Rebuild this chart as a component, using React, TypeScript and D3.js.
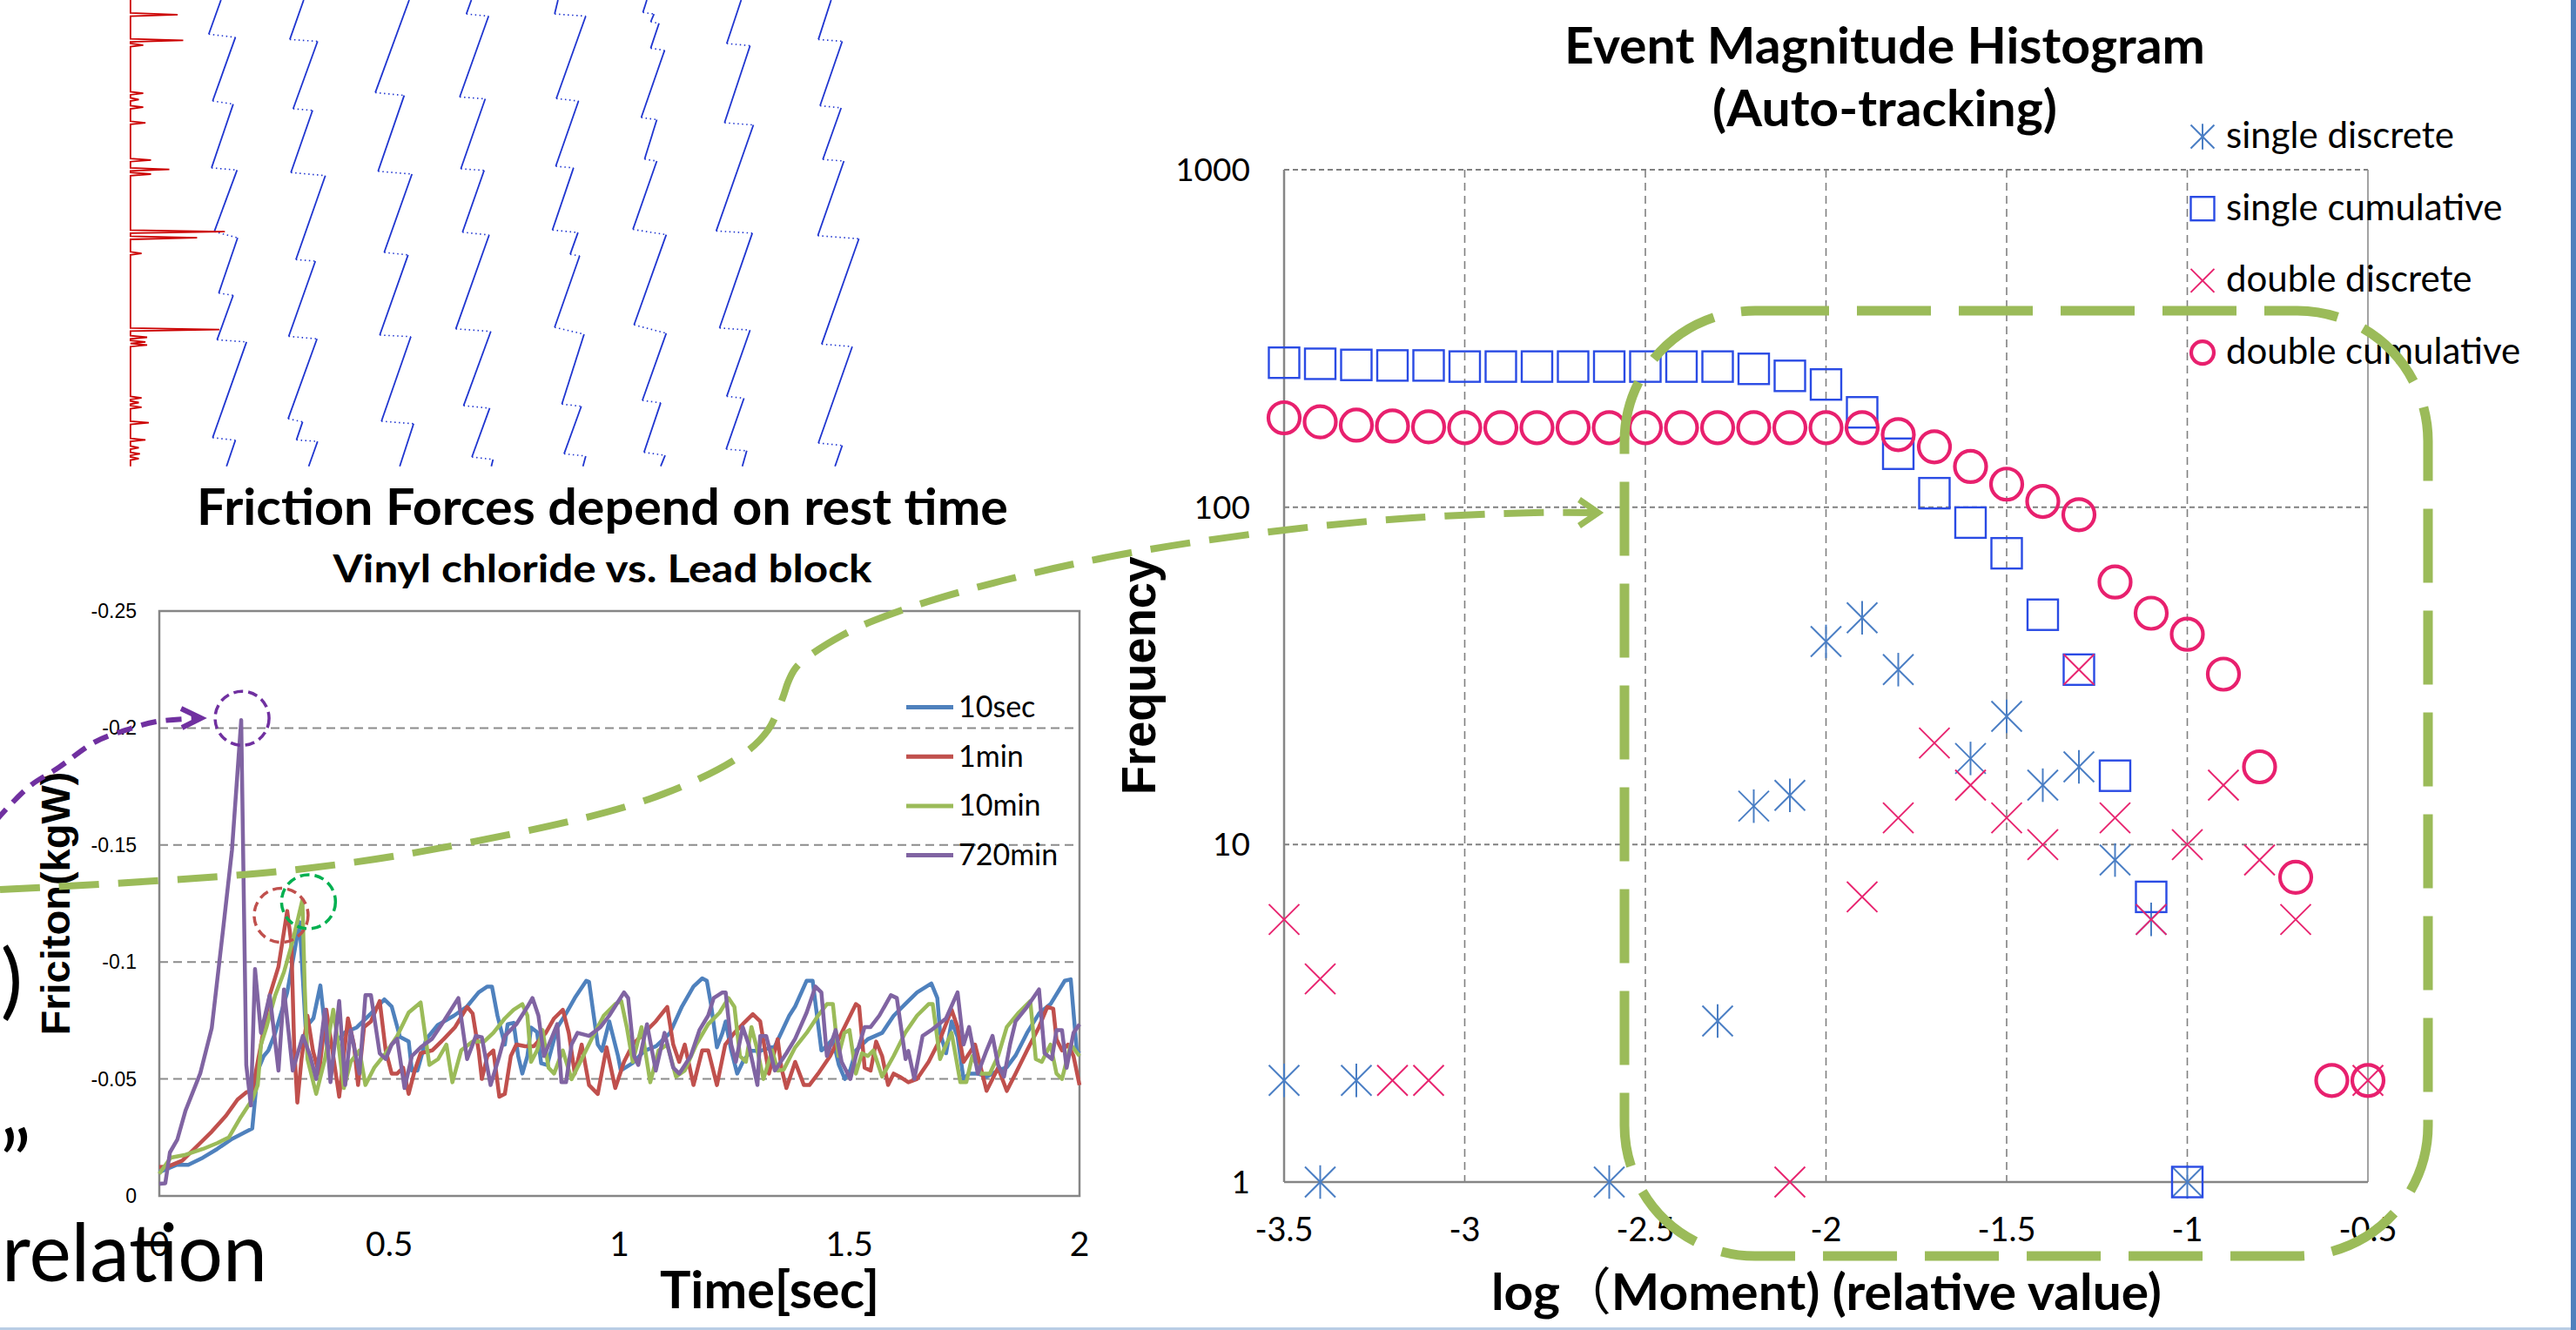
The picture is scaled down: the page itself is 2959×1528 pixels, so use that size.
import React, { useEffect, useRef } from "react";
import * as d3 from "d3";

type Pt = [number, number];

const W = 2959;
const H = 1528;

const CAL = "Lato, 'Open Sans', sans-serif";
const ARIAL = "'Liberation Sans', Arial, sans-serif";
const CJK = "'Noto Sans CJK JP', 'Noto Sans CJK SC', sans-serif";

// ---------- friction chart: time [sec] vs friction [kgW] ----------
const restTimes = ["10sec", "1min", "10min", "720min"];
const restColors = ["#4F81BD", "#C0504D", "#9BBB59", "#8064A2"];
const timeTicks = [0, 0.5, 1, 1.5, 2];
const frictionTicks = [0, -0.05, -0.1, -0.15, -0.2, -0.25];

const f10sec: Pt[] = [
  [0.0, -0.0102], [0.038, -0.0133], [0.063, -0.0133], [0.095, -0.0164], [0.126, -0.0201],
  [0.158, -0.0244], [0.189, -0.0275], [0.202, -0.0288], [0.214, -0.0536], [0.227, -0.0598],
  [0.237, -0.0622], [0.252, -0.0697], [0.278, -0.087], [0.305, -0.117], [0.318, -0.072],
  [0.335, -0.076], [0.35, -0.09], [0.365, -0.063], [0.38, -0.065], [0.404, -0.07],
  [0.429, -0.072], [0.46, -0.078], [0.489, -0.084], [0.505, -0.081], [0.523, -0.068],
  [0.542, -0.066], [0.549, -0.0536], [0.561, -0.0536], [0.58, -0.067], [0.605, -0.073],
  [0.64, -0.077], [0.669, -0.081], [0.694, -0.087], [0.713, -0.0895], [0.723, -0.0895],
  [0.735, -0.077], [0.751, -0.0647], [0.757, -0.0734], [0.77, -0.074], [0.78, -0.0598],
  [0.789, -0.0523], [0.8, -0.0598], [0.808, -0.072], [0.821, -0.07], [0.83, -0.0567],
  [0.843, -0.056], [0.865, -0.072], [0.884, -0.078], [0.903, -0.0846], [0.928, -0.092],
  [0.934, -0.0915], [0.953, -0.0647], [0.962, -0.062], [0.978, -0.0746], [0.997, -0.0598],
  [1.003, -0.0536], [1.03, -0.057], [1.054, -0.062], [1.08, -0.064], [1.11, -0.0697],
  [1.136, -0.081], [1.161, -0.0895], [1.18, -0.093], [1.19, -0.092], [1.199, -0.082],
  [1.212, -0.0635], [1.224, -0.0697], [1.231, -0.0746], [1.243, -0.0622], [1.256, -0.0523],
  [1.27, -0.058], [1.287, -0.062], [1.306, -0.062], [1.338, -0.064], [1.369, -0.077],
  [1.382, -0.081], [1.407, -0.092], [1.42, -0.092], [1.439, -0.0622], [1.445, -0.063],
  [1.464, -0.067], [1.477, -0.056], [1.49, -0.05], [1.502, -0.054], [1.514, -0.0622],
  [1.54, -0.067], [1.571, -0.0697], [1.596, -0.077], [1.621, -0.082], [1.647, -0.087],
  [1.678, -0.0908], [1.691, -0.0846], [1.697, -0.0697], [1.71, -0.061], [1.722, -0.0746],
  [1.735, -0.068], [1.748, -0.05], [1.76, -0.0523], [1.779, -0.0523], [1.798, -0.051],
  [1.823, -0.0536], [1.842, -0.055], [1.861, -0.06], [1.886, -0.0697], [1.912, -0.078],
  [1.937, -0.082], [1.968, -0.092], [1.981, -0.0926], [1.994, -0.0622], [2.0, -0.061],
];

const f1min: Pt[] = [
  [0.0, -0.0124], [0.019, -0.0126], [0.05, -0.0151], [0.082, -0.0213], [0.114, -0.0275],
  [0.145, -0.0343], [0.17, -0.0412], [0.189, -0.0443], [0.202, -0.045], [0.221, -0.0647],
  [0.24, -0.0858], [0.259, -0.098], [0.278, -0.1218], [0.287, -0.108], [0.293, -0.0647],
  [0.3, -0.0399], [0.309, -0.0585], [0.322, -0.077], [0.334, -0.062], [0.347, -0.0523],
  [0.363, -0.0796], [0.378, -0.0598], [0.391, -0.0424], [0.41, -0.0759], [0.423, -0.0647],
  [0.432, -0.0474], [0.445, -0.0722], [0.46, -0.0746], [0.479, -0.0833], [0.492, -0.0622],
  [0.505, -0.0523], [0.517, -0.0523], [0.53, -0.0548], [0.542, -0.0436], [0.555, -0.0536],
  [0.568, -0.061], [0.593, -0.0622], [0.618, -0.067], [0.643, -0.0722], [0.669, -0.0808],
  [0.681, -0.078], [0.694, -0.0622], [0.701, -0.05], [0.713, -0.0598], [0.726, -0.0622],
  [0.739, -0.0424], [0.751, -0.0436], [0.764, -0.0598], [0.776, -0.0647], [0.795, -0.064],
  [0.814, -0.064], [0.84, -0.0697], [0.858, -0.0759], [0.877, -0.0796], [0.89, -0.0697],
  [0.903, -0.0523], [0.918, -0.0647], [0.934, -0.0474], [0.953, -0.0436], [0.972, -0.0635],
  [0.991, -0.0461], [1.01, -0.0573], [1.029, -0.0647], [1.054, -0.0697], [1.079, -0.0746],
  [1.104, -0.0808], [1.117, -0.0647], [1.13, -0.0573], [1.142, -0.0647], [1.161, -0.0474],
  [1.18, -0.0622], [1.193, -0.0622], [1.212, -0.0474], [1.23, -0.0647], [1.25, -0.0697],
  [1.268, -0.0734], [1.29, -0.0777], [1.306, -0.0746], [1.325, -0.0523], [1.344, -0.067],
  [1.352, -0.0548], [1.363, -0.0461], [1.382, -0.0573], [1.401, -0.0474], [1.413, -0.0474],
  [1.432, -0.0523], [1.458, -0.0598], [1.483, -0.0697], [1.514, -0.082], [1.521, -0.081],
  [1.533, -0.0548], [1.546, -0.0536], [1.558, -0.066], [1.571, -0.0598], [1.584, -0.0474],
  [1.596, -0.0523], [1.609, -0.051], [1.628, -0.0486], [1.647, -0.05], [1.672, -0.0573],
  [1.697, -0.067], [1.722, -0.0796], [1.735, -0.0722], [1.748, -0.0573], [1.773, -0.0647],
  [1.798, -0.0449], [1.823, -0.0548], [1.842, -0.0449], [1.861, -0.0523], [1.886, -0.0622],
  [1.912, -0.0722], [1.93, -0.0808], [1.943, -0.08], [1.95, -0.067], [1.962, -0.0622],
  [1.975, -0.0647], [1.987, -0.0598], [2.0, -0.0474],
];

const f10min: Pt[] = [
  [0.0, -0.0095], [0.025, -0.0164], [0.057, -0.0176], [0.095, -0.0201], [0.126, -0.0226],
  [0.151, -0.025], [0.177, -0.0337], [0.202, -0.0412], [0.214, -0.0474], [0.221, -0.0647],
  [0.233, -0.0722], [0.252, -0.0858], [0.271, -0.0957], [0.29, -0.109], [0.311, -0.1265],
  [0.316, -0.0895], [0.322, -0.0585], [0.341, -0.0436], [0.36, -0.0585], [0.378, -0.0796],
  [0.391, -0.0622], [0.401, -0.0461], [0.416, -0.0573], [0.435, -0.0622], [0.448, -0.0474],
  [0.467, -0.0548], [0.492, -0.061], [0.517, -0.0684], [0.542, -0.0784], [0.568, -0.0827],
  [0.587, -0.056], [0.606, -0.0585], [0.624, -0.0647], [0.637, -0.0486], [0.656, -0.0622],
  [0.681, -0.066], [0.706, -0.066], [0.726, -0.0697], [0.751, -0.0759], [0.77, -0.0796],
  [0.789, -0.082], [0.8, -0.0771], [0.808, -0.0573], [0.821, -0.0622], [0.833, -0.0709],
  [0.846, -0.0548], [0.858, -0.0523], [0.877, -0.0622], [0.896, -0.0499], [0.915, -0.0573],
  [0.94, -0.0672], [0.966, -0.0771], [0.991, -0.082], [1.004, -0.0833], [1.016, -0.0722],
  [1.029, -0.0573], [1.048, -0.0722], [1.067, -0.0486], [1.085, -0.0622], [1.104, -0.0647],
  [1.123, -0.051], [1.142, -0.0536], [1.167, -0.0647], [1.193, -0.0734], [1.218, -0.0784],
  [1.237, -0.0846], [1.25, -0.0808], [1.262, -0.0598], [1.275, -0.0573], [1.287, -0.0722],
  [1.3, -0.0622], [1.313, -0.05], [1.332, -0.0622], [1.344, -0.0536], [1.357, -0.054],
  [1.382, -0.0635], [1.407, -0.0697], [1.432, -0.0771], [1.451, -0.082], [1.464, -0.082],
  [1.476, -0.0598], [1.489, -0.0697], [1.5, -0.0709], [1.514, -0.0523], [1.527, -0.061],
  [1.54, -0.0598], [1.552, -0.0622], [1.571, -0.051], [1.596, -0.0598], [1.621, -0.0697],
  [1.647, -0.0771], [1.672, -0.082], [1.681, -0.082], [1.697, -0.0585], [1.71, -0.0647],
  [1.722, -0.0697], [1.741, -0.0486], [1.754, -0.0486], [1.767, -0.0598], [1.786, -0.0523],
  [1.805, -0.0523], [1.823, -0.0598], [1.842, -0.0722], [1.868, -0.0784], [1.893, -0.0833],
  [1.905, -0.0585], [1.918, -0.0573], [1.937, -0.0647], [1.95, -0.0523], [1.962, -0.05],
  [1.981, -0.0647], [2.0, -0.0598],
];

const f720min: Pt[] = [
  [0.0, -0.0052], [0.013, -0.0054], [0.023, -0.0186], [0.039, -0.024], [0.057, -0.0365],
  [0.089, -0.0524], [0.114, -0.0718], [0.139, -0.1146], [0.158, -0.148], [0.178, -0.2034],
  [0.189, -0.056], [0.199, -0.0387], [0.208, -0.097], [0.221, -0.0697], [0.24, -0.0858],
  [0.259, -0.0536], [0.271, -0.0883], [0.29, -0.0536], [0.312, -0.0684], [0.328, -0.0598],
  [0.341, -0.05], [0.36, -0.0796], [0.372, -0.0486], [0.391, -0.0833], [0.404, -0.0474],
  [0.416, -0.0709], [0.435, -0.0523], [0.448, -0.0858], [0.46, -0.0858], [0.479, -0.061],
  [0.492, -0.0585], [0.505, -0.0647], [0.517, -0.0672], [0.533, -0.0461], [0.549, -0.0598],
  [0.568, -0.0635], [0.593, -0.0672], [0.618, -0.0746], [0.65, -0.0846], [0.669, -0.0585],
  [0.688, -0.0684], [0.701, -0.0678], [0.72, -0.0474], [0.739, -0.0598], [0.751, -0.0684],
  [0.776, -0.0734], [0.8, -0.0808], [0.811, -0.0846], [0.824, -0.0771], [0.836, -0.0598],
  [0.852, -0.0672], [0.865, -0.0734], [0.874, -0.0486], [0.884, -0.0486], [0.896, -0.0647],
  [0.909, -0.0697], [0.934, -0.0684], [0.959, -0.0722], [0.978, -0.0771], [1.01, -0.087],
  [1.019, -0.0846], [1.032, -0.0598], [1.041, -0.056], [1.06, -0.0734], [1.079, -0.0536],
  [1.098, -0.0697], [1.117, -0.0548], [1.13, -0.0523], [1.155, -0.0598], [1.174, -0.0709],
  [1.193, -0.0771], [1.205, -0.0846], [1.224, -0.087], [1.231, -0.087], [1.243, -0.0647],
  [1.253, -0.0573], [1.268, -0.0722], [1.281, -0.0647], [1.3, -0.0474], [1.306, -0.0684],
  [1.319, -0.0684], [1.338, -0.0536], [1.363, -0.061], [1.382, -0.0672], [1.407, -0.0784],
  [1.426, -0.0895], [1.439, -0.087], [1.451, -0.0598], [1.47, -0.0709], [1.483, -0.0573],
  [1.502, -0.05], [1.514, -0.0598], [1.533, -0.0722], [1.546, -0.0722], [1.565, -0.0771],
  [1.59, -0.0858], [1.603, -0.0846], [1.622, -0.0585], [1.628, -0.062], [1.641, -0.05],
  [1.659, -0.0684], [1.678, -0.0709], [1.71, -0.0759], [1.735, -0.087], [1.748, -0.0647],
  [1.76, -0.0722], [1.779, -0.0523], [1.798, -0.0622], [1.811, -0.0684], [1.823, -0.056],
  [1.836, -0.051], [1.849, -0.0647], [1.861, -0.0746], [1.886, -0.0808], [1.912, -0.0883],
  [1.924, -0.061], [1.94, -0.0585], [1.95, -0.0709], [1.962, -0.0709], [1.972, -0.0548],
  [1.987, -0.0697], [2.0, -0.0734],
];

// ---------- event magnitude histogram: log(moment) vs frequency ----------
const momentTicks = [-3.5, -3, -2.5, -2, -1.5, -1, -0.5];
const freqTicks = [1, 10, 100, 1000];
const histNames = ["single discrete", "single cumulative", "double discrete", "double cumulative"];

const singleDiscrete: Pt[] = [
  [-3.5, 2], [-3.4, 1], [-3.3, 2], [-2.6, 1], [-2.3, 3], [-2.2, 13], [-2.1, 14], [-2.0, 40],
  [-1.9, 47], [-1.8, 33], [-1.6, 18], [-1.5, 24], [-1.4, 15], [-1.3, 17], [-1.2, 9],
  [-1.1, 6], [-1.0, 1],
];
const singleCumulative: Pt[] = [
  [-3.5, 268], [-3.4, 266], [-3.3, 264], [-3.2, 263], [-3.1, 263], [-3.0, 261], [-2.9, 261],
  [-2.8, 261], [-2.7, 261], [-2.6, 261], [-2.5, 261], [-2.4, 261], [-2.3, 261], [-2.2, 257],
  [-2.1, 245], [-2.0, 231], [-1.9, 191], [-1.8, 144], [-1.7, 110], [-1.6, 90], [-1.5, 73],
  [-1.4, 48], [-1.3, 33], [-1.2, 16], [-1.1, 7], [-1.0, 1],
];
const doubleDiscrete: Pt[] = [
  [-3.5, 6], [-3.4, 4], [-3.2, 2], [-3.1, 2], [-2.1, 1], [-1.9, 7], [-1.8, 12], [-1.7, 20],
  [-1.6, 15], [-1.5, 12], [-1.4, 10], [-1.3, 33], [-1.2, 12], [-1.1, 6], [-1.0, 10],
  [-0.9, 15], [-0.8, 9], [-0.7, 6], [-0.5, 2],
];
const doubleCumulative: Pt[] = [
  [-3.5, 184], [-3.4, 179], [-3.3, 175], [-3.2, 174], [-3.1, 173], [-3.0, 172], [-2.9, 172],
  [-2.8, 172], [-2.7, 172], [-2.6, 172], [-2.5, 172], [-2.4, 172], [-2.3, 172], [-2.2, 172],
  [-2.1, 172], [-2.0, 172], [-1.9, 172], [-1.8, 164], [-1.7, 151], [-1.6, 132], [-1.5, 117],
  [-1.4, 104], [-1.3, 95], [-1.2, 60], [-1.1, 48.5], [-1.0, 42], [-0.9, 32], [-0.8, 17],
  [-0.7, 8], [-0.6, 2], [-0.5, 2],
];

// ---------- stick-slip sketch, top left (sketch units) ----------
const sawColumns: Pt[][] = [
  [[398, 0], [376, 110], [424, 120], [383, 325], [420, 335], [381, 540], [427, 547], [386, 745], [428, 765], [394, 943], [420, 950], [391, 1093], [444, 1100], [383, 1408], [424, 1416], [408, 1500]],
  [[547, 0], [522, 127], [572, 133], [528, 350], [563, 355], [524, 555], [586, 565], [533, 835], [568, 840], [520, 1082], [571, 1090], [519, 1347], [545, 1357], [534, 1415], [572, 1420], [556, 1500]],
  [[737, 0], [676, 298], [728, 307], [681, 551], [742, 560], [692, 812], [735, 820], [684, 1078], [740, 1083], [687, 1355], [745, 1363], [720, 1500]],
  [[849, 0], [840, 45], [880, 52], [828, 312], [874, 318], [830, 543], [872, 548], [833, 747], [881, 756], [821, 1058], [884, 1066], [835, 1305], [882, 1313], [850, 1470], [888, 1478], [885, 1500]],
  [[1005, 0], [999, 45], [1055, 52], [1002, 317], [1042, 325], [1001, 535], [1033, 540], [995, 740], [1041, 748], [1027, 818], [1044, 823], [999, 1053], [1052, 1075], [1012, 1300], [1047, 1307], [1016, 1460], [1055, 1467], [1050, 1500]],
  [[1165, 0], [1158, 40], [1178, 45], [1172, 70], [1187, 75], [1172, 155], [1197, 162], [1155, 378], [1183, 385], [1161, 512], [1183, 518], [1140, 738], [1200, 755], [1142, 1045], [1200, 1072], [1157, 1288], [1190, 1296], [1160, 1455], [1198, 1465], [1190, 1500]],
  [[1335, 0], [1309, 140], [1351, 147], [1305, 395], [1357, 402], [1290, 743], [1355, 750], [1296, 1055], [1351, 1062], [1309, 1275], [1340, 1281], [1308, 1445], [1345, 1450], [1337, 1500]],
  [[1497, 0], [1474, 127], [1517, 133], [1477, 340], [1515, 347], [1482, 513], [1520, 518], [1473, 758], [1547, 768], [1480, 1107], [1535, 1115], [1474, 1425], [1517, 1433], [1504, 1500]],
];
// [time, spike tip] of the red force trace
const redSpikes: Pt[] = [
  [47, 320], [130, 330], [145, 258], [300, 258], [320, 250], [345, 258], [395, 262],
  [515, 272], [545, 305], [560, 272], [745, 405], [765, 355], [815, 255], [1060, 395],
  [1085, 265], [1100, 262], [1110, 265], [1280, 255], [1295, 250], [1310, 255], [1360, 268],
  [1415, 262], [1440, 250], [1460, 252], [1475, 250],
];

// ---------- annotation paths (page pixels) ----------
const greenArrow: Pt[] = [
  [0, 1022], [332, 1000], [539, 968], [746, 918], [850, 869], [882, 839], [899, 802],
  [906, 782], [916, 765], [969, 729], [1036, 701], [1152, 667], [1299, 635], [1467, 610],
  [1622, 595], [1762, 589], [1836, 589],
];
const purpleArrow: Pt[] = [
  [-5, 943], [33, 904], [67, 882], [110, 852], [150, 837], [180, 829], [228, 825],
];

function txt(g: any, s: string, x: number, y: number, o: any) {
  const t = g
    .append("text")
    .attr("x", x)
    .attr("y", y)
    .attr("font-family", o.family || CAL)
    .attr("font-size", o.size)
    .attr("font-weight", o.weight || 400)
    .attr("text-anchor", o.anchor || "start")
    .attr("fill", o.fill || "#000")
    .text(s);
  if (o.len) t.attr("textLength", o.len).attr("lengthAdjust", "spacingAndGlyphs");
  if (o.rotate) t.attr("transform", `rotate(${o.rotate},${x},${y})`);
  return t;
}

function marker(g: any, kind: string, cx: number, cy: number, s: number) {
  if (kind === "asterisk" || kind === "x") {
    const c = kind === "asterisk" ? "#4A7EC4" : "#E8246F";
    g.append("line").attr("x1", cx - s).attr("y1", cy - s).attr("x2", cx + s).attr("y2", cy + s)
      .attr("stroke", c).attr("stroke-width", 2);
    g.append("line").attr("x1", cx - s).attr("y1", cy + s).attr("x2", cx + s).attr("y2", cy - s)
      .attr("stroke", c).attr("stroke-width", 2);
    if (kind === "asterisk")
      g.append("line").attr("x1", cx).attr("y1", cy - s * 1.1).attr("x2", cx).attr("y2", cy + s * 1.1)
        .attr("stroke", c).attr("stroke-width", 2);
  } else if (kind === "square") {
    g.append("rect").attr("x", cx - s).attr("y", cy - s).attr("width", 2 * s).attr("height", 2 * s)
      .attr("fill", "none").attr("stroke", "#2A4BE4").attr("stroke-width", 2.4);
  } else {
    g.append("circle").attr("cx", cx).attr("cy", cy).attr("r", s)
      .attr("fill", "none").attr("stroke", "#E8206E").attr("stroke-width", 4.2);
  }
}

function App() {
  const svgRef = useRef<SVGSVGElement>(null);

  useEffect(() => {
    document.body.style.margin = "0";
    const svg = d3.select(svgRef.current);
    svg.selectAll("*").remove();
    svg.append("rect").attr("width", W).attr("height", H).attr("fill", "#fff");

    //stick-slip sketch
    const sx = d3.scaleLinear().domain([0, 1568]).range([0, 1000]);
    const sy = d3.scaleLinear().domain([0, 1568]).range([0, 560]);
    const sketch = svg.append("g");
    sawColumns.forEach((col) => {
      for (let i = 0; i < col.length - 1; i++) {
        const a = col[i];
        const b = col[i + 1];
        sketch.append("line")
          .attr("x1", sx(a[0])).attr("y1", sy(a[1])).attr("x2", sx(b[0])).attr("y2", sy(b[1]))
          .attr("stroke", "#1F35D0")
          .attr("stroke-width", i % 2 === 0 ? 1.8 : 1.6)
          .attr("stroke-dasharray", i % 2 === 0 ? null : "1.5,3.5");
      }
    });
    const base = 235;
    let red = `M${sx(base)},0`;
    redSpikes.forEach(([t, tip]) => {
      red += `L${sx(base)},${sy(t - 5)}L${sx(tip)},${sy(t)}L${sx(base)},${sy(t + 5)}`;
    });
    red += `L${sx(base)},${sy(1500)}`;
    sketch.append("path").attr("d", red).attr("fill", "none").attr("stroke", "#CC0000").attr("stroke-width", 1.8);

    //friction chart
    const xT = d3.scaleLinear().domain([0, 2]).range([183, 1240]);
    const yK = d3.scaleLinear().domain([0, -0.25]).range([1374, 702]);
    const fr = svg.append("g");
    frictionTicks.slice(1, -1).forEach((v) => {
      fr.append("line").attr("x1", xT(0)).attr("x2", xT(2)).attr("y1", yK(v)).attr("y2", yK(v))
        .attr("stroke", "#8C8C8C").attr("stroke-width", 2).attr("stroke-dasharray", "10,6");
    });
    fr.append("rect").attr("x", xT(0)).attr("y", yK(-0.25)).attr("width", xT(2) - xT(0))
      .attr("height", yK(0) - yK(-0.25)).attr("fill", "none").attr("stroke", "#868686").attr("stroke-width", 2.5);
    frictionTicks.forEach((v) => {
      txt(fr, v === 0 ? "0" : String(v), 157, yK(v) + 8, { size: 23, family: ARIAL, anchor: "end" });
    });
    timeTicks.forEach((v) => {
      txt(fr, String(v), xT(v), 1443, { size: 39, anchor: "middle" });
    });
    const line = d3.line<Pt>().x((d) => xT(d[0])).y((d) => yK(d[1]));
    [f10sec, f1min, f10min, f720min].forEach((s, i) => {
      fr.append("path").attr("d", line(s)).attr("fill", "none").attr("stroke", restColors[i])
        .attr("stroke-width", 4.5).attr("stroke-linejoin", "round");
    });
    restTimes.forEach((n, i) => {
      const y = 812.5 + i * 56.7;
      fr.append("line").attr("x1", 1041).attr("x2", 1095).attr("y1", y).attr("y2", y)
        .attr("stroke", restColors[i]).attr("stroke-width", 5);
      txt(fr, n, 1101, y + 11.5, { size: 34 });
    });
    txt(fr, "Friction Forces depend on rest time", 692, 603, { size: 58, weight: 700, anchor: "middle", len: 932 });
    txt(fr, "Vinyl chloride vs. Lead block", 692, 669, { size: 44, weight: 700, anchor: "middle", len: 619 });
    txt(fr, "Time[sec]", 884, 1503, { size: 60, weight: 700, anchor: "middle", len: 252 });
    txt(fr, "Friciton(kgW)", 80, 1038, { size: 46, weight: 700, family: ARIAL, anchor: "middle", len: 303, rotate: -90 });

    //histogram
    const xM = d3.scaleLinear().domain([-3.5, -0.5]).range([1475, 2720]);
    const yF = d3.scaleLog().domain([1, 1000]).range([1358, 195]);
    const hg = svg.append("g");
    momentTicks.slice(1, -1).forEach((v) => {
      hg.append("line").attr("x1", xM(v)).attr("x2", xM(v)).attr("y1", yF(1000)).attr("y2", yF(1))
        .attr("stroke", "#808080").attr("stroke-width", 1.6).attr("stroke-dasharray", "9,6");
    });
    freqTicks.slice(1).forEach((v) => {
      hg.append("line").attr("x1", xM(-3.5)).attr("x2", xM(-0.5)).attr("y1", yF(v)).attr("y2", yF(v))
        .attr("stroke", "#808080").attr("stroke-width", 2).attr("stroke-dasharray", "6,4");
    });
    hg.append("line").attr("x1", xM(-0.5)).attr("x2", xM(-0.5)).attr("y1", yF(1000)).attr("y2", yF(1))
      .attr("stroke", "#8C8C8C").attr("stroke-width", 1.6);
    hg.append("line").attr("x1", xM(-3.5)).attr("x2", xM(-3.5)).attr("y1", yF(1000)).attr("y2", yF(1))
      .attr("stroke", "#868686").attr("stroke-width", 2.5);
    hg.append("line").attr("x1", xM(-3.5)).attr("x2", xM(-0.5)).attr("y1", yF(1)).attr("y2", yF(1))
      .attr("stroke", "#868686").attr("stroke-width", 2.5);
    freqTicks.forEach((v) => {
      txt(hg, String(v), 1436, yF(v) + 13, { size: 37, anchor: "end" });
    });
    momentTicks.forEach((v) => {
      txt(hg, String(v), xM(v), 1426, { size: 38, anchor: "middle" });
    });
    const kinds = ["asterisk", "square", "x", "circle"];
    const sizes = [17.5, 17.5, 17.5, 18];
    [singleDiscrete, singleCumulative, doubleDiscrete, doubleCumulative].forEach((s, i) => {
      s.forEach(([m, f]) => marker(hg, kinds[i], xM(m), yF(f), sizes[i]));
    });
    histNames.forEach((n, i) => {
      const y = 157 + i * 82.7;
      marker(hg, kinds[i], 2530, y, i === 3 ? 13 : 13.5);
      txt(hg, n, 2557, y + 13, { size: 42 });
    });
    txt(hg, "Event Magnitude Histogram", 2165, 73, { size: 58, weight: 700, anchor: "middle", len: 736 });
    txt(hg, "(Auto-tracking)", 2165, 145, { size: 58, weight: 700, anchor: "middle", len: 396 });
    const xl = txt(hg, "", 2098, 1505, { size: 58, weight: 700, anchor: "middle", len: 770 });
    xl.append("tspan").text("log");
    xl.append("tspan").attr("font-family", CJK).attr("font-weight", 400).text("\uFF08");
    xl.append("tspan").text("Moment) (relative value)");
    txt(hg, "Frequency", 1327, 776, { size: 55, weight: 700, family: ARIAL, anchor: "middle", len: 274, rotate: -90 });

    //annotations
    const an = svg.append("g");
    const curve = d3.line<Pt>().curve(d3.curveCatmullRom.alpha(0.5));
    an.append("path").attr("d", curve(greenArrow)).attr("fill", "none").attr("stroke", "#9BBB59")
      .attr("stroke-width", 8).attr("stroke-dasharray", "46,22");
    const gt = greenArrow[greenArrow.length - 1];
    an.append("path").attr("d", `M${gt[0] - 22},${gt[1] - 15}L${gt[0]},${gt[1]}L${gt[0] - 22},${gt[1] + 15}`)
      .attr("fill", "none").attr("stroke", "#9BBB59").attr("stroke-width", 7);
    an.append("path").attr("d", curve(purpleArrow)).attr("fill", "none").attr("stroke", "#7030A0")
      .attr("stroke-width", 6).attr("stroke-dasharray", "18,11");
    const pt = purpleArrow[purpleArrow.length - 1];
    an.append("path").attr("d", `M${pt[0] - 20},${pt[1] - 11}L${pt[0] + 3},${pt[1]}L${pt[0] - 19},${pt[1] + 11}`)
      .attr("fill", "none").attr("stroke", "#7030A0").attr("stroke-width", 6);
    const peak = (s: Pt[]) => s.reduce((a, b) => (b[1] < a[1] ? b : a));
    const rings: [Pt, number, number, string][] = [
      [peak(f720min), 1, -2, "#7030A0"],
      [peak(f1min), -7, 5, "#C0504D"],
      [peak(f10min), 7, 2, "#00B050"],
    ];
    rings.forEach(([p, dx, dy, c]) => {
      an.append("circle").attr("cx", xT(p[0]) + dx).attr("cy", yK(p[1]) + dy).attr("r", 31)
        .attr("fill", "none").attr("stroke", c).attr("stroke-width", 3.5).attr("stroke-dasharray", "11,6");
    });
    an.append("rect").attr("x", 1866).attr("y", 357).attr("width", 923).attr("height", 1086)
      .attr("rx", 150).attr("ry", 150).attr("fill", "none").attr("stroke", "#9BBB59")
      .attr("stroke-width", 11).attr("stroke-dasharray", "85,32");

    //slide text fragments
    txt(an, ")", 26, 1159, { size: 95, anchor: "end" });
    txt(an, "\u201D", 36, 1372, { size: 100, anchor: "end", weight: 400 });
    txt(an, "relation", 2, 1472, { size: 93, len: 305 });

    //slide borders
    svg.append("rect").attr("x", 2953).attr("y", 0).attr("width", 6).attr("height", H).attr("fill", "#4F81BD");
    svg.append("rect").attr("x", 0).attr("y", 1525).attr("width", 2953).attr("height", 3).attr("fill", "#B9CDE5");
  }, []);

  return <svg ref={svgRef} width={W} height={H} style={{ display: "block" }} />;
}

export default App;
